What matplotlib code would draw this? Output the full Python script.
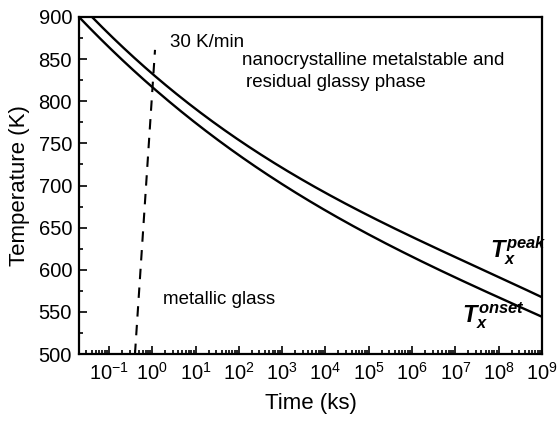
import numpy as np
import matplotlib
matplotlib.use("Agg")
import matplotlib.pyplot as plt
from matplotlib.ticker import LogLocator, MultipleLocator, FixedLocator

plt.rcParams['font.family'] = ['Liberation Sans', 'DejaVu Sans']
plt.rcParams['mathtext.fontset'] = 'custom'
plt.rcParams['mathtext.it'] = 'Liberation Sans:italic:bold'
plt.rcParams['mathtext.rm'] = 'Liberation Sans'
plt.rcParams['axes.unicode_minus'] = False

# Data
t_peak = [0.041, 0.89, 182, 13200, 550000, 3.9e7, 1e9]       # ks
T_peak = [900, 834.7, 745.7, 686.4, 647.2, 599.8, 567.7]      # K
t_onset = [0.0204, 0.89, 182, 13200, 550000, 3.9e7, 1e9]
T_onset = [900, 819.3, 726.7, 665.0, 625.9, 573.7, 545.2]
t_rate = [0.40, 1.16]
T_rate = [500, 861]

fig = plt.figure(figsize=(5.57, 4.25), dpi=100)
ax = fig.add_axes([79/557, 1-354/425, (542-79)/557, (354-17)/425])

def smooth(t, T):
    lt = np.log10(t)
    coeffs = np.polyfit(lt, T, 3)
    xs = np.linspace(lt[0], lt[-1], 300)
    return 10**xs, np.polyval(coeffs, xs)

xs, ys = smooth(t_peak, T_peak)
ax.plot(xs, ys, color='black', lw=1.7)
xs, ys = smooth(t_onset, T_onset)
ax.plot(xs, ys, color='black', lw=1.7)
ax.plot(t_rate, T_rate, color='black', lw=1.5, ls=(0, (5, 4)))

ax.set_xscale('log')
ax.set_xlim(0.0204, 1e9)
ax.set_ylim(500, 900)
ax.xaxis.set_major_locator(FixedLocator([10.0**k for k in range(-1, 10)]))
ax.xaxis.set_minor_locator(LogLocator(base=10, subs=np.arange(2, 10), numticks=30))
ax.xaxis.set_minor_formatter(plt.NullFormatter())
ax.yaxis.set_major_locator(MultipleLocator(50))
ax.yaxis.set_minor_locator(MultipleLocator(25))

for s in ax.spines.values():
    s.set_linewidth(1.6)
ax.tick_params(which='both', direction='in', top=False, right=False, width=1.2)
ax.tick_params(which='major', length=6, labelsize=14.5)
ax.tick_params(which='minor', length=3)
ax.tick_params(axis='x', pad=6)
ax.tick_params(axis='y', pad=5)

ax.set_xlabel('Time (ks)', fontsize=16, labelpad=6)
ax.set_ylabel('Temperature (K)', fontsize=16, labelpad=6)

fs = 13.5
ax.text(2.6, 870, '30 K/min', fontsize=fs, ha='left', va='center')
ax.text(120, 848, 'nanocrystalline metalstable and', fontsize=fs, ha='left', va='center')
ax.text(143, 822, 'residual glassy phase', fontsize=fs, ha='left', va='center')
ax.text(1.75, 565, 'metallic glass', fontsize=fs, ha='left', va='center')
ax.text(6.2e7, 622, r'$T_x^{peak}$', fontsize=17, ha='left', va='center')
ax.text(1.4e7, 545, r'$T_x^{onset}$', fontsize=17, ha='left', va='center')

fig.savefig('out.png', dpi=100)
